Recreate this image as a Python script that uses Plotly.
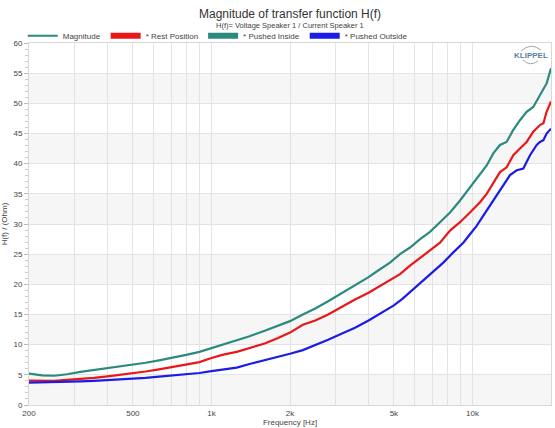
import plotly.graph_objects as go

freq_low = [200, 225, 250, 280, 315, 355, 400, 450, 500, 560, 630, 710, 800, 900,
            1000, 1120, 1250, 1400, 1600, 1800, 2000, 2240, 2500, 2800, 3150, 3550, 4000]

freq_inside = freq_low + [4425, 4832, 5279, 5767, 6300, 6877, 7512, 8206, 8963, 9505,
                          10080, 10690, 11340, 12020, 12750, 13520, 14340, 15210, 16130,
                          17100, 18140, 19240, 20000]
pushed_inside = [5.2, 4.9, 4.85, 5.1, 5.5, 5.8, 6.1, 6.4, 6.7, 7.0, 7.4, 7.8, 8.3, 8.8,
                 9.4, 10.1, 10.7, 11.4, 12.3, 13.1, 13.9, 15.0, 16.0, 17.2, 18.5, 19.9, 21.2,
                 22.5, 23.6, 25.0, 26.1, 27.5, 28.7, 30.3, 31.9, 33.9, 35.3,
                 36.7, 38.1, 39.7, 41.7, 43.1, 43.6, 45.6, 47.2, 48.6,
                 49.4, 51.4, 53.3, 55.8]

freq_rest = freq_low + [4425, 4832, 5279, 5767, 6300, 6877, 7512, 8206, 8963, 9787,
                        10690, 11340, 12020, 12750, 13520, 14340, 15210, 16130, 17100,
                        18140, 18700, 19240, 20000]
rest_position = [4.05, 4.0, 4.0, 4.15, 4.3, 4.5, 4.75, 5.0, 5.25, 5.55, 5.9, 6.3, 6.7, 7.1,
                 7.8, 8.4, 8.8, 9.5, 10.2, 11.1, 12.0, 13.3, 14.0, 15.0, 16.3, 17.5, 18.6,
                 19.7, 20.8, 21.7, 23.1, 24.4, 25.6, 26.9, 28.9, 30.3, 31.9,
                 33.6, 35.0, 36.7, 38.6, 39.4, 41.4, 42.5, 43.6, 45.3,
                 46.4, 46.7, 48.6, 50.3]

freq_outside = freq_low + [4500, 5000, 5390, 5936, 6485, 7085, 7736, 8448, 9226, 9787,
                           10380, 11010, 11680, 12390, 13130, 13930, 14780, 15670, 16620,
                           17630, 18140, 18700, 19240, 20000]
pushed_outside = [3.7, 3.75, 3.7, 3.8, 3.9, 4.0, 4.1, 4.2, 4.35, 4.5, 4.7, 4.9, 5.1, 5.3,
                  5.6, 5.85, 6.2, 6.8, 7.4, 7.9, 8.5, 9.1, 9.9, 10.8, 11.8, 12.8, 14.0,
                  15.3, 16.5, 17.6, 19.2, 20.8, 22.2, 23.6, 25.3, 26.9, 28.3,
                  29.7, 31.4, 33.1, 34.7, 36.4, 38.1, 38.9, 39.2, 41.4,
                  43.1, 43.6, 43.9, 45.0, 45.8]

x_tickvals = [200, 500, 1000, 2000, 5000, 10000, 20000]
x_ticktext = ["200", "500", "1k", "2k", "5k", "10k", "20k"]
x_minor = [300, 400, 600, 700, 800, 900, 3000, 4000, 6000, 7000, 8000, 9000]

TEAL = "#2b8a7e"
RED = "#e81818"
BLUE = "#1c1ce6"
FONT = "Liberation Sans, Arial, sans-serif"

fig = go.Figure()

for name, xs, ys, col in [("* Rest Position", freq_rest, rest_position, RED),
                          ("* Pushed Inside", freq_inside, pushed_inside, TEAL),
                          ("* Pushed Outside", freq_outside, pushed_outside, BLUE)]:
    fig.add_trace(go.Scatter(x=xs, y=ys, mode="lines", name=name,
                             line=dict(color=col, width=2.2), showlegend=False))

fig.add_trace(go.Scatter(x=[None], y=[None], mode="lines", name="Magnitude",
                         line=dict(color=TEAL, width=2)))
for name, col in [("* Rest Position", RED), ("* Pushed Inside", TEAL),
                  ("* Pushed Outside", BLUE)]:
    fig.add_trace(go.Scatter(x=[None], y=[None], mode="lines", name=name,
                             line=dict(color=col, width=6)))

shapes = []
for lo in range(0, 60, 10):
    shapes.append(dict(type="rect", xref="paper", x0=0, x1=1, yref="y", y0=lo, y1=lo + 5,
                       fillcolor="#f6f6f6", line=dict(width=0), layer="below"))


def px(x):
    return (x - 29) / 522.0


def py(y):
    return (405 - y) / 362.0


shapes.append(dict(type="path", xref="paper", yref="paper",
                   path=f"M {px(521)},{py(51)} Q {px(531)},{py(42)} {px(541)},{py(50)}",
                   line=dict(color="#9aa9b8", width=1)))
shapes.append(dict(type="path", xref="paper", yref="paper",
                   path=f"M {px(523)},{py(60)} Q {px(530)},{py(67)} {px(538)},{py(61)}",
                   line=dict(color="#9aa9b8", width=1)))

fig.update_layout(
    width=555, height=428,
    margin=dict(l=29, r=4, t=43, b=23),
    paper_bgcolor="white", plot_bgcolor="white",
    font=dict(family=FONT, size=8, color="#444"),
    shapes=shapes,
    legend=dict(orientation="h", x=-0.012, xanchor="left", y=1.02, yanchor="middle",
                font=dict(size=8, color="#444", family=FONT), itemwidth=30,
                bgcolor="rgba(0,0,0,0)", tracegroupgap=0),
    xaxis=dict(type="log", range=[2.30103, 4.30103],
               tickvals=x_tickvals, ticktext=x_ticktext,
               showgrid=True, gridcolor="#e3e3e3", gridwidth=1,
               minor=dict(tickvals=x_minor, showgrid=True, gridcolor="#e3e3e3", gridwidth=1),
               ticks="", showline=True, linecolor="#d8d8d8", mirror=True,
               title=dict(text="Frequency [Hz]", standoff=2, font=dict(size=8, color="#444")),
               tickfont=dict(size=8, color="#444"), zeroline=False),
    yaxis=dict(range=[0, 60], dtick=5, tick0=0,
               showgrid=True, gridcolor="#e3e3e3", gridwidth=1,
               ticks="outside", ticklen=4, tickcolor="#bbb",
               minor=dict(dtick=1, ticks="outside", ticklen=3, tickcolor="#ccc", showgrid=False),
               showline=True, linecolor="#d8d8d8", mirror=True,
               title=dict(text="H(f) / (Ohm)", standoff=4, font=dict(size=8, color="#444")),
               tickfont=dict(size=8, color="#444"), zeroline=False),
)

fig.add_annotation(text="Magnitude of transfer function H(f)", xref="paper", yref="paper",
                   x=0.5, y=py(14), xanchor="center", yanchor="middle", showarrow=False,
                   font=dict(size=12, color="#333", family=FONT))
fig.add_annotation(text="H(f)= Voltage Speaker 1 / Current Speaker 1", xref="paper", yref="paper",
                   x=0.5, y=py(26), xanchor="center", yanchor="middle", showarrow=False,
                   font=dict(size=7.5, color="#444", family=FONT))
fig.add_annotation(text="<b>KLIPPEL</b>", xref="paper", yref="paper", x=px(531), y=py(55),
                   xanchor="center", yanchor="middle", showarrow=False,
                   font=dict(size=8, color="#5b7fa3", family=FONT))

fig.write_html("out.html")
